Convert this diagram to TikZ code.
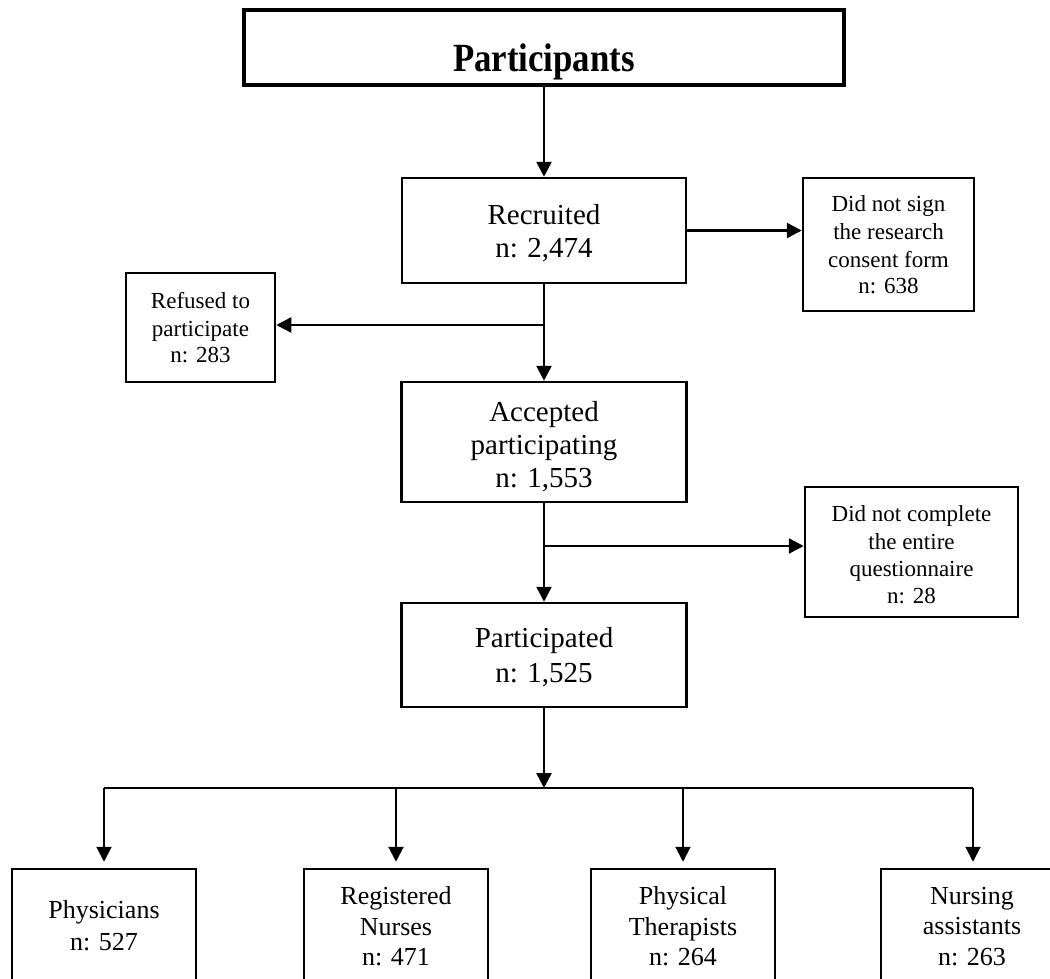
\documentclass[tikz,border=0pt]{standalone}
\usepackage{fontspec}
\setmainfont{Liberation Serif}
\usetikzlibrary{arrows.meta}
\begin{document}
\begin{tikzpicture}[x=1pt,y=-1pt,
  box/.style={draw, line width=2.5pt, rectangle, inner sep=0pt},
  conn/.style={line width=2.5pt},
  arr/.style={conn, -{Triangle[length=15pt,width=15pt]}},
  title/.style={font=\fontsize{40}{48}\bfseries\selectfont, anchor=base, inner sep=0pt, xscale=.87},
  mid/.style={font=\fontsize{29}{33}\selectfont, anchor=base, inner sep=0pt},
  small/.style={font=\fontsize{23}{27.5}\selectfont, anchor=base, inner sep=0pt},
  low/.style={font=\fontsize{26}{31}\selectfont, anchor=base, inner sep=0pt},
]
\useasboundingbox (0,0) rectangle (1050,978);
\clip (0,0) rectangle (1050,978);

% boxes
\node[box, line width=3.5pt, minimum width=600pt, minimum height=75pt] (top) at (544,47.5) {};
\node[box, minimum width=284pt, minimum height=105pt] (rec) at (544,230.5) {};
\node[box, minimum width=171pt, minimum height=133pt] (sign) at (888.5,244.5) {};
\node[box, minimum width=149pt, minimum height=109pt] (ref) at (200.5,327.5) {};
\node[box, minimum width=285pt, minimum height=120pt] (acc) at (544,442) {};
\node[box, minimum width=213pt, minimum height=130pt] (comp) at (911.5,552) {};
\node[box, minimum width=285pt, minimum height=104pt] (par) at (544,655) {};
\node[box, minimum width=184pt, minimum height=131pt] (phy) at (104,934.5) {};
\node[box, minimum width=184pt, minimum height=131pt] (reg) at (396,934.5) {};
\node[box, minimum width=184pt, minimum height=131pt] (pt) at (683,934.5) {};
\node[box, minimum width=184pt, minimum height=131pt] (na) at (973,934.5) {};

% texts
\node[title] (topT) at (544,71) {Participants};
\node[mid] (recA) at (544,224) {Recruited};
\node[mid] (recB) at (544,257) {n: 2,474};
\node[small] (signA) at (888.5,211) {Did not sign};
\node[small] (signB) at (888.5,239) {the research};
\node[small] (signC) at (888.5,267) {consent form};
\node[small] (signD) at (888.5,293) {n: 638};
\node[small] (refA) at (200.5,308) {Refused to};
\node[small] (refB) at (200.5,336) {participate};
\node[small] (refC) at (200.5,362) {n: 283};
\node[mid] (accA) at (544,421) {Accepted};
\node[mid] (accB) at (544,454) {participating};
\node[mid] (accC) at (544,487) {n: 1,553};
\node[small] (compA) at (911.5,521) {Did not complete};
\node[small] (compB) at (911.5,549) {the entire};
\node[small] (compC) at (911.5,576) {questionnaire};
\node[small] (compD) at (911.5,603) {n: 28};
\node[mid] (parA) at (544,647) {Participated};
\node[mid] (parB) at (544,682) {n: 1,525};
\node[low] (phyA) at (104,918) {Physicians};
\node[low] (phyB) at (104,950) {n: 527};
\node[low] (regA) at (396,904) {Registered};
\node[low] (regB) at (396,935) {Nurses};
\node[low] (regC) at (396,965) {n: 471};
\node[low] (ptA) at (683,904) {Physical};
\node[low] (ptB) at (683,935) {Therapists};
\node[low] (ptC) at (683,965) {n: 264};
\node[low] (naA) at (972,904) {Nursing};
\node[low] (naB) at (972,934) {assistants};
\node[low] (naC) at (972,965) {n: 263};

% connectors
\coordinate (b1) at (544,325);
\coordinate (b2) at (544,546);
\coordinate (hub) at (544,788);
\draw[arr] (top.south) -- (rec.north);
\draw[arr] (rec.east) -- (rec.east -| sign.west);
\draw[arr] (rec.south) -- (acc.north);
\draw[arr] (b1) -- (b1 -| ref.east);
\draw[arr] (acc.south) -- (par.north);
\draw[arr] (b2) -- (b2 -| comp.west);
\draw[arr] (par.south) -- (hub);
\draw[conn, line width=2pt] (hub -| phy.north) -- (hub -| na.north);
\foreach \n in {phy,reg,pt,na}
  \draw[arr, line width=2pt, shorten >=6pt] (hub -| \n.north) -- (\n.north);
\end{tikzpicture}
\end{document}
